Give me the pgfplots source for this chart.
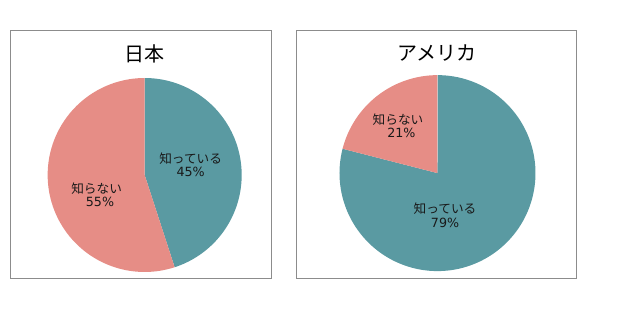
\documentclass[border=0pt]{standalone}
\usepackage{fontspec}
\setmainfont{Noto Sans CJK JP}
\newfontfamily\numfont{DejaVu Sans}
\usepackage{pgfplots}
\pgfplotsset{compat=1.18}
\definecolor{pieteal}{HTML}{5A9AA2}
\definecolor{piesalmon}{HTML}{E68D86}
\definecolor{framegray}{HTML}{8C8C8C}
% data (percent)
\def\jpKnow{45}\def\jpNot{55}
\def\usKnow{79}\def\usNot{21}
\pgfmathsetmacro\jpA{90-3.6*\jpKnow}
\pgfmathsetmacro\usA{90-3.6*\usKnow}
\pgfplotsset{piepanel/.style={scale only axis, anchor=south west, height=186pt,
  axis line style={framegray, line width=0.75pt}, xtick=\empty, ytick=\empty, clip=false}}
\tikzset{lab/.style={font=\fontsize{9.5}{10}\selectfont, align=center, text=black!90}}
\begin{document}
\begin{tikzpicture}[x=0.75pt,y=0.75pt]
\path[use as bounding box] (0,0) rectangle (620,310);
\begin{axis}[piepanel, at={(11,32)}, width=195.75pt,
  xmin=-1.381, xmax=1.309, ymin=-1.072, ymax=1.485]
\addplot[fill=pieteal, draw=none, domain=\jpA:90, samples=90] ({cos(x)},{sin(x)}) -- (axis cs:0,0) -- cycle;
\addplot[fill=piesalmon, draw=none, domain=-270:\jpA, samples=90] ({cos(x)},{sin(x)}) -- (axis cs:0,0) -- cycle;
\node[font=\fontsize{15}{18}\selectfont] at (axis cs:0,1.247) {日本};
\node[lab] at (axis cs:0.474,0.108) {知っている\\{\numfont\jpKnow\%}};
\node[lab] at (axis cs:-0.495,-0.201) {知らない\\\hspace*{5pt}{\numfont\jpNot\%}};
\end{axis}
\begin{axis}[piepanel, at={(303,32)}, width=210pt,
  xmin=-1.434, xmax=1.423, ymin=-1.077, ymax=1.454]
\addplot[fill=pieteal, draw=none, domain=\usA:90, samples=120] ({cos(x)},{sin(x)}) -- (axis cs:0,0) -- cycle;
\addplot[fill=piesalmon, draw=none, domain=-270:\usA, samples=40] ({cos(x)},{sin(x)}) -- (axis cs:0,0) -- cycle;
\node[font=\fontsize{15}{18}\selectfont] at (axis cs:0,1.23) {アメリカ};
\node[lab] at (axis cs:-0.403,0.48) {知らない\\\hspace*{5pt}{\numfont\usNot\%}};
\node[lab] at (axis cs:0.077,-0.429) {知っている\\{\numfont\usKnow\%}};
\end{axis}
\end{tikzpicture}
\end{document}
